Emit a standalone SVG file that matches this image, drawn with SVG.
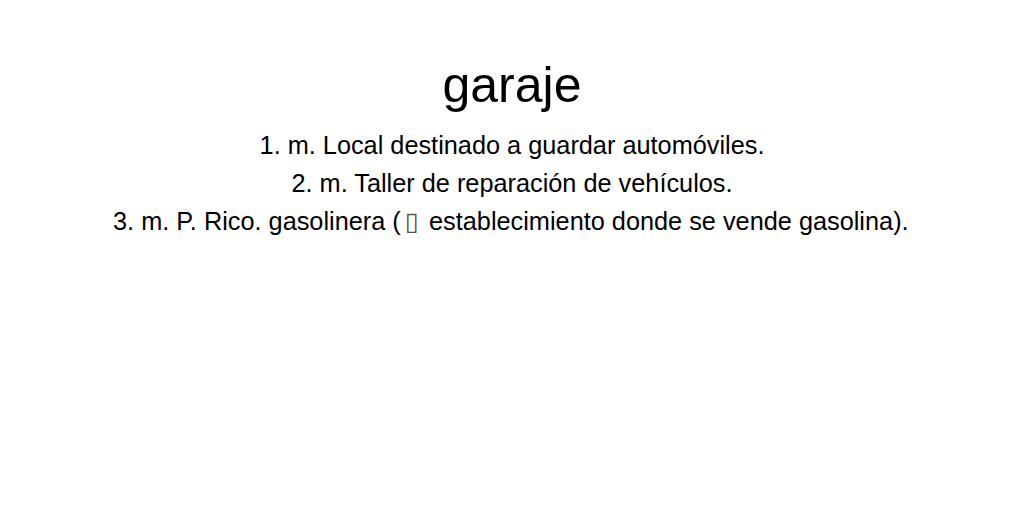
<svg xmlns="http://www.w3.org/2000/svg" width="1024" height="512" viewBox="0 0 1024 512">
<style>
text { font-family: "Liberation Sans", Arial, sans-serif; fill: #000; }
.t { font-size: 50px; text-anchor: middle; }
.d { font-size: 25.3px; text-anchor: middle; }
.l { font-size: 25.3px; }
.tofu { font-family: "DejaVu Sans", sans-serif; fill: #555; }
</style>
<rect width="1024" height="512" fill="#fff"/>
<g id="title"><text class="t" x="512" y="102">garaje</text></g>
<g id="defs">
<text class="d" x="512" y="154">1. m. Local destinado a guardar automóviles.</text>
<text class="d" x="512" y="192">2. m. Taller de reparación de vehículos.</text>
<text class="l" x="113" y="230">3. m. P. Rico. gasolinera (<tspan class="tofu" x="405">▯</tspan><tspan x="422"> establecimiento donde se vende gasolina).</tspan></text>
</g>
</svg>
